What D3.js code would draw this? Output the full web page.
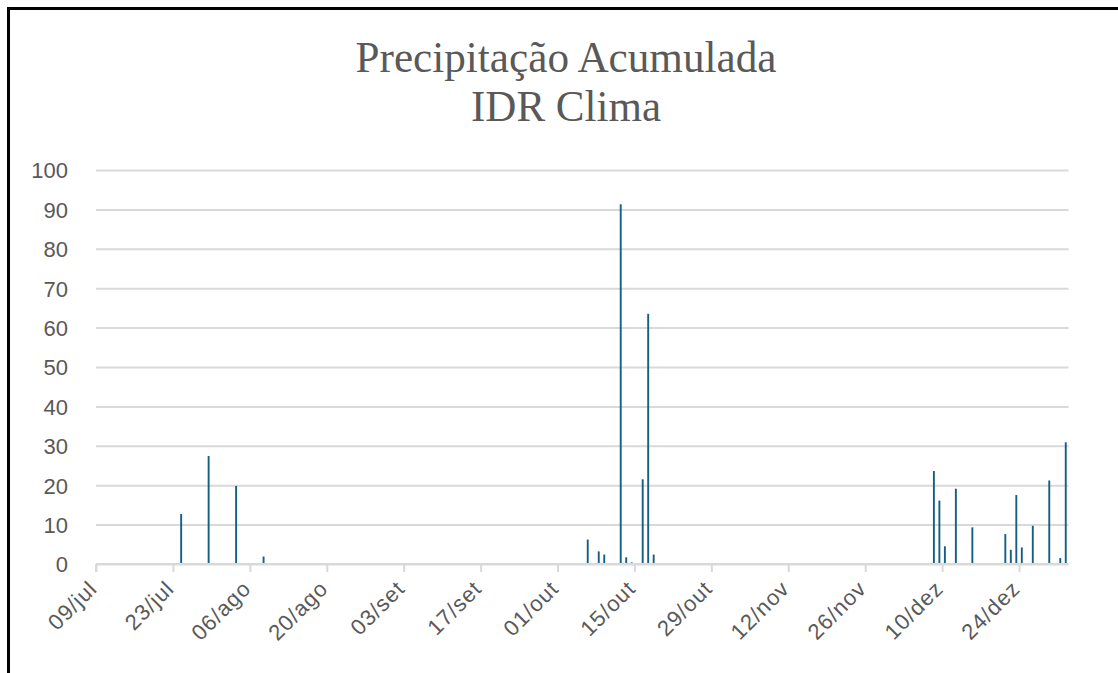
<!DOCTYPE html>
<html>
<head>
<meta charset="utf-8">
<script src="https://cdn.jsdelivr.net/npm/d3@7"></script>
<style>
  body { margin: 0; background: #fff; }
  svg text { fill: #595959; }
  .axis text { font-family: "Liberation Sans", Arial, sans-serif; font-size: 22px; }
</style>
</head>
<body>
<div id="container"></div>
<script>
// daily rainfall (mm), only the days with rain
var dates = [
  '2023-07-24', '2023-07-29', '2023-08-03', '2023-08-08',
  '2023-10-06', '2023-10-08', '2023-10-09', '2023-10-12', '2023-10-13', '2023-10-14',
  '2023-10-16', '2023-10-17', '2023-10-18',
  '2023-12-08', '2023-12-09', '2023-12-10', '2023-12-12', '2023-12-15',
  '2023-12-21', '2023-12-22', '2023-12-23', '2023-12-24', '2023-12-26',
  '2023-12-29', '2023-12-31', '2024-01-01'
];
var rain = [
  12.7, 27.4, 19.8, 1.9,
  6.2, 3.2, 2.4, 91.3, 1.7, 0.4,
  21.5, 63.5, 2.4,
  23.6, 16.1, 4.5, 19.1, 9.3,
  7.6, 3.6, 17.5, 4.2, 9.7,
  21.2, 1.5, 30.9
];
var yTicks = [0, 10, 20, 30, 40, 50, 60, 70, 80, 90, 100];
var xTickLabels = ['09/jul', '23/jul', '06/ago', '20/ago', '03/set', '17/set', '01/out',
                   '15/out', '29/out', '12/nov', '26/nov', '10/dez', '24/dez'];
var titleLines = ['Precipitação Acumulada', 'IDR Clima'];

var W = 1118, H = 673;
var margin = {top: 170, right: 50, bottom: 109, left: 96},
    width = 1068.5 - margin.left,
    height = 564 - margin.top;

var parse = d3.timeParse('%Y-%m-%d');
var data = dates.map(function (d, i) { return {x: parse(d), y: rain[i]}; });

var start = parse('2023-07-09'), end = parse('2024-01-02');

var x = d3.scaleTime().domain([start, end]).range([0, width]);
var y = d3.scaleLinear().domain([0, 100]).range([height, 0]);

var svg = d3.select('#container').append('svg')
    .attr('width', W)
    .attr('height', H);

// frame
svg.append('path')
    .attr('d', 'M8.5,' + H + 'V8.5H' + W)
    .attr('fill', 'none')
    .attr('stroke', '#000')
    .attr('stroke-width', 3);

// title
svg.selectAll('text.title')
    .data(titleLines)
    .enter().append('text')
    .attr('class', 'title')
    .attr('x', 566)
    .attr('y', function (d, i) { return 72 + i * 49; })
    .attr('text-anchor', 'middle')
    .attr('font-family', '"Liberation Serif", "Times New Roman", serif')
    .attr('font-size', 44)
    .attr('textLength', function (d, i) { return i === 0 ? 421 : 190; })
    .attr('lengthAdjust', 'spacingAndGlyphs')
    .text(function (d) { return d; });

var g = svg.append('g')
    .attr('transform', 'translate(' + margin.left + ',' + margin.top + ')');

// y axis: gridlines + labels
var yAxis = d3.axisLeft(y)
    .tickValues(yTicks)
    .tickSize(-width)
    .tickPadding(28);

g.append('g')
    .attr('class', 'axis axis--y')
    .call(yAxis)
    .call(function (a) {
        a.select('.domain').remove();
        a.selectAll('.tick line').attr('stroke', '#d9d9d9').attr('stroke-width', 2);
        a.selectAll('.tick text').attr('dy', '0.36em');
    });

// bars
var barW = 1.9;
g.selectAll('.bar')
    .data(data)
    .enter().append('rect')
    .attr('class', 'bar')
    .attr('x', function (d) { return x(d3.timeHour.offset(d.x, 12)) - barW / 2; })
    .attr('y', function (d) { return y(d.y); })
    .attr('width', barW)
    .attr('height', function (d) { return height - y(d.y); })
    .attr('fill', '#156082');

// x axis
var xTickDates = d3.range(xTickLabels.length).map(function (i) { return d3.timeDay.offset(start, i * 14); });

var xAxis = d3.axisBottom(x)
    .tickValues(xTickDates)
    .tickSize(8)
    .tickSizeOuter(0)
    .tickFormat(function (d, i) { return xTickLabels[i]; });

g.append('g')
    .attr('class', 'axis axis--x')
    .attr('transform', 'translate(0,' + height + ')')
    .call(xAxis)
    .call(function (a) {
        a.select('.domain').attr('stroke', '#d9d9d9').attr('stroke-width', 2)
            .attr('d', 'M0,0.5V8M0,0H' + width);
        a.selectAll('.tick line').attr('stroke', '#d9d9d9').attr('stroke-width', 2);
        a.selectAll('.tick text')
            .attr('text-anchor', 'end')
            .attr('dy', 0)
            .attr('letter-spacing', 1)
            .attr('transform', 'translate(2,26) rotate(-45)')
            .attr('y', 0)
            .attr('x', 0);
    });
</script>
</body>
</html>
